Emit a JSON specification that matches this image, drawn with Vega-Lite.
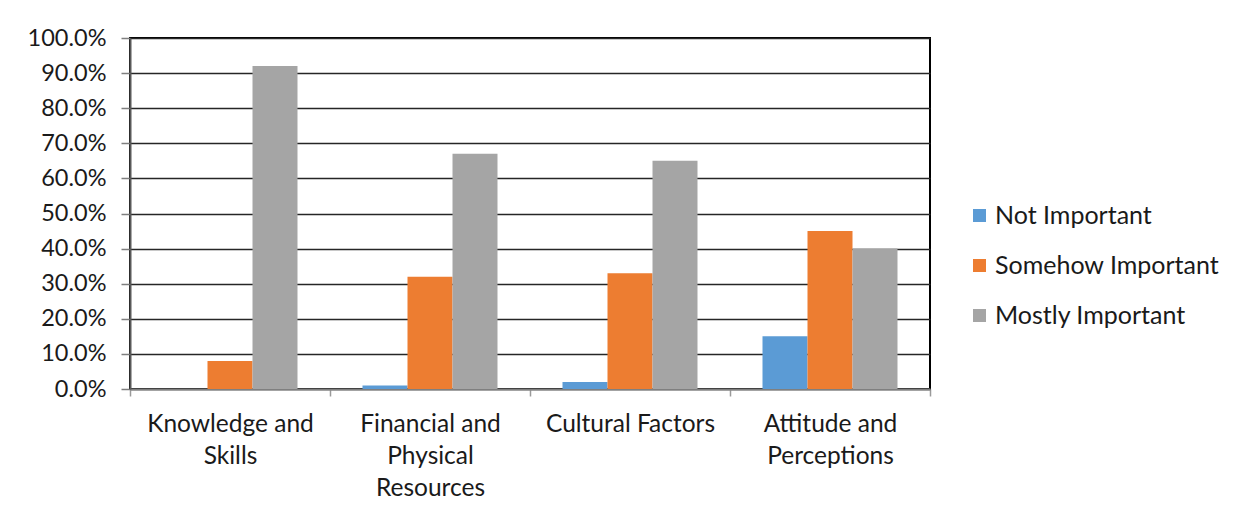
{
  "$schema": "https://vega.github.io/schema/vega-lite/v6.json",
  "width": 800,
  "height": 351,
  "autosize": {"type": "none"},
  "padding": {"left": 130, "top": 38, "right": 325, "bottom": 127},
  "background": "white",
  "data": {
    "values": [
      {"factor": "Knowledge and Skills", "importance": "Not Important", "share": 0.0},
      {"factor": "Knowledge and Skills", "importance": "Somehow Important", "share": 0.08},
      {"factor": "Knowledge and Skills", "importance": "Mostly Important", "share": 0.92},
      {"factor": "Financial and Physical Resources", "importance": "Not Important", "share": 0.01},
      {"factor": "Financial and Physical Resources", "importance": "Somehow Important", "share": 0.32},
      {"factor": "Financial and Physical Resources", "importance": "Mostly Important", "share": 0.67},
      {"factor": "Cultural Factors", "importance": "Not Important", "share": 0.02},
      {"factor": "Cultural Factors", "importance": "Somehow Important", "share": 0.33},
      {"factor": "Cultural Factors", "importance": "Mostly Important", "share": 0.65},
      {"factor": "Attitude and Perceptions", "importance": "Not Important", "share": 0.15},
      {"factor": "Attitude and Perceptions", "importance": "Somehow Important", "share": 0.45},
      {"factor": "Attitude and Perceptions", "importance": "Mostly Important", "share": 0.40}
    ]
  },
  "mark": {"type": "bar"},
  "encoding": {
    "x": {
      "field": "factor",
      "type": "nominal",
      "sort": ["Knowledge and Skills", "Financial and Physical Resources", "Cultural Factors", "Attitude and Perceptions"],
      "scale": {"paddingInner": 0, "paddingOuter": 0},
      "axis": {
        "title": null,
        "labelAngle": 0,
        "tickBand": "extent",
        "tickSize": 7,
        "tickColor": "#9a9a9a",
        "tickWidth": 1.5,
        "domainColor": "#7f7f7f",
        "domainWidth": 2,
        "labelPadding": 16,
        "labelLineHeight": 32,
        "labelBaseline": "top",
        "labelFontSize": 24.5,
        "labelExpr": "datum.value == 'Knowledge and Skills' ? ['Knowledge and', 'Skills'] : datum.value == 'Financial and Physical Resources' ? ['Financial and', 'Physical', 'Resources'] : datum.value == 'Attitude and Perceptions' ? ['Attitude and', 'Perceptions'] : datum.value"
      }
    },
    "xOffset": {
      "field": "importance",
      "sort": ["Not Important", "Somehow Important", "Mostly Important"],
      "scale": {"paddingInner": 0, "paddingOuter": 0.7222}
    },
    "y": {
      "field": "share",
      "type": "quantitative",
      "scale": {"domain": [0, 1], "nice": false},
      "axis": {
        "title": null,
        "format": ".1%",
        "values": [0, 0.1, 0.2, 0.3, 0.4, 0.5, 0.6, 0.7, 0.8, 0.9, 1.0],
        "tickSize": 9,
        "tickColor": "#7f7f7f",
        "tickWidth": 1.5,
        "labelPadding": 15,
        "labelFontSize": 23.5,
        "domainColor": "#595959",
        "domainWidth": 2,
        "grid": true,
        "gridColor": "#262626",
        "gridWidth": 1.3
      }
    },
    "color": {
      "field": "importance",
      "type": "nominal",
      "sort": ["Not Important", "Somehow Important", "Mostly Important"],
      "scale": {
        "domain": ["Not Important", "Somehow Important", "Mostly Important"],
        "range": ["#5B9BD5", "#ED7D31", "#A5A5A5"]
      },
      "legend": {
        "title": null,
        "orient": "none",
        "legendX": 837,
        "legendY": 165,
        "symbolType": "square",
        "symbolSize": 170,
        "symbolStrokeWidth": 0,
        "labelOffset": 3,
        "rowPadding": 24
      }
    }
  },
  "config": {
    "font": "Lato",
    "view": {"stroke": "#000000", "strokeWidth": 2},
    "axis": {"labelFont": "Lato", "labelFontSize": 23, "labelColor": "#1a1a1a"},
    "legend": {"labelFont": "Lato", "labelFontSize": 25, "labelColor": "#1a1a1a", "labelLimit": 400}
  }
}
